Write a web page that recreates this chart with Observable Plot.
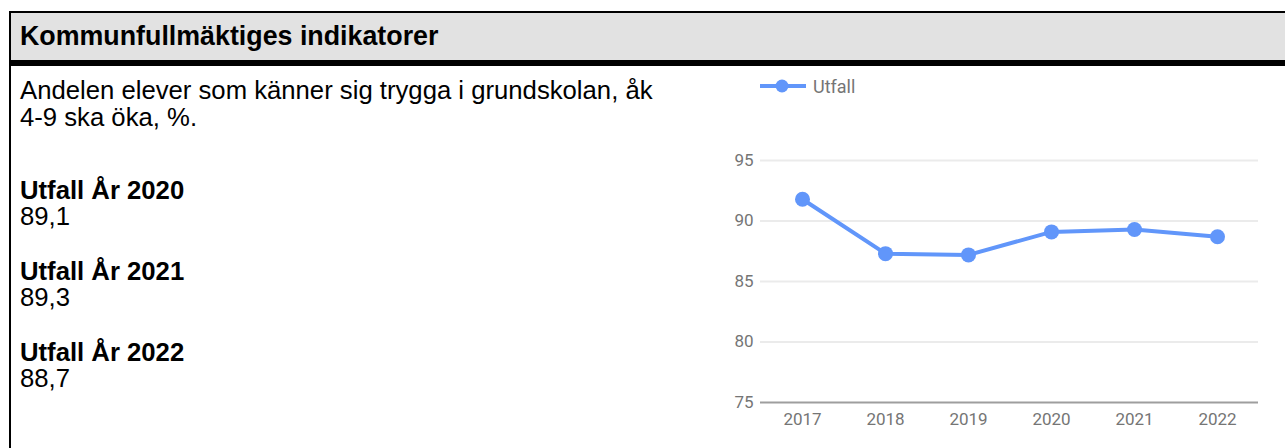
<!DOCTYPE html>
<html>
<head>
<meta charset="utf-8">
<script src="https://cdn.jsdelivr.net/npm/d3@7"></script>
<script src="https://cdn.jsdelivr.net/npm/@observablehq/plot@0.6"></script>
<style>
  html, body { margin: 0; padding: 0; background: #fff; }
  body { width: 1285px; height: 448px; position: relative; overflow: hidden; font-family: "Liberation Sans", Arial, sans-serif; color: #000; }
  .abs { position: absolute; }
  #frame { left: 9px; top: 11px; width: 1300px; height: 460px; border-left: 2px solid #000; border-top: 2px solid #000; }
  #header { left: 11px; top: 13px; width: 1290px; height: 47px; background: #e2e2e2; }
  #bar { left: 11px; top: 60px; width: 1290px; height: 6px; background: #000; }
  #title { left: 20px; top: 23px; font-weight: bold; font-size: 26.8px; line-height: 27px; white-space: nowrap; }
  .txt { left: 20px; font-size: 25.7px; line-height: 27px; white-space: nowrap; }
  .b { font-weight: bold; }
  #chart { left: 700px; top: 60px; }
  #legend { left: 758px; top: 72px; height: 28px; display: flex; align-items: center; font-family: Roboto, sans-serif; font-size: 18px; color: #757575; }
  #legend svg { margin-right: 7px; }
</style>
</head>
<body>
<div id="frame" class="abs"></div>
<div id="header" class="abs"></div>
<div id="bar" class="abs"></div>
<div id="title" class="abs">Kommunfullmäktiges indikatorer</div>
<div id="texts"></div>
<div id="chart" class="abs"></div>
<div id="legend" class="abs"></div>
<script>
// ---- data ----
const years = ["2017", "2018", "2019", "2020", "2021", "2022"];
const utfall = [91.8, 87.3, 87.2, 89.1, 89.3, 88.7];
const yTicks = [75, 80, 85, 90, 95];
const seriesName = "Utfall";
const description = ["Andelen elever som känner sig trygga i grundskolan, åk", "4-9 ska öka, %."];
const shownYears = ["2020", "2021", "2022"];

const color = "#6196fa";
const data = years.map((y, i) => ({year: y, value: utfall[i]}));

// ---- left texts ----
const texts = document.getElementById("texts");
function addLine(str, top, bold) {
  const d = document.createElement("div");
  d.className = "abs txt" + (bold ? " b" : "");
  d.style.top = top + "px";
  d.textContent = str;
  texts.appendChild(d);
}
addLine(description[0], 77, false);
addLine(description[1], 104, false);
const fmt = v => v.toFixed(1).replace(".", ",");
shownYears.forEach((yr, k) => {
  const top = 177 + k * 81;
  addLine(seriesName + " År " + yr, top, true);
  addLine(fmt(utfall[years.indexOf(yr)]), top + 26, false);
});

// ---- chart ----
const chart = Plot.plot({
  width: 585,
  height: 388,
  marginLeft: 60,
  marginRight: 27,
  marginTop: 100,
  marginBottom: 46,
  style: {fontFamily: "Roboto, sans-serif", fontSize: "17px", color: "#757575", background: "transparent"},
  x: {type: "point", domain: years, padding: 0.5, label: null},
  y: {domain: [75, 95], label: null},
  marks: [
    Plot.ruleY(yTicks.filter(t => t !== 75), {stroke: "#ebebeb", strokeWidth: 2}),
    Plot.ruleY([75], {stroke: "#9e9e9e", strokeWidth: 2}),
    Plot.axisY({ticks: yTicks, tickSize: 0, tickPadding: 7, label: null, fontSize: 17}),
    Plot.axisX({tickSize: 0, tickPadding: 10, label: null, fontSize: 17}),
    Plot.line(data, {x: "year", y: "value", stroke: color, strokeWidth: 4}),
    Plot.dot(data, {x: "year", y: "value", r: 7.5, fill: color, stroke: "none"})
  ]
});
document.getElementById("chart").appendChild(chart);

// ---- legend ----
const legend = document.getElementById("legend");
legend.innerHTML = `<svg width="48" height="14"><line x1="2" y1="7" x2="48" y2="7" stroke="${color}" stroke-width="4"/><circle cx="24" cy="7" r="6.5" fill="${color}"/></svg><span>${seriesName}</span>`;
</script>
</body>
</html>
